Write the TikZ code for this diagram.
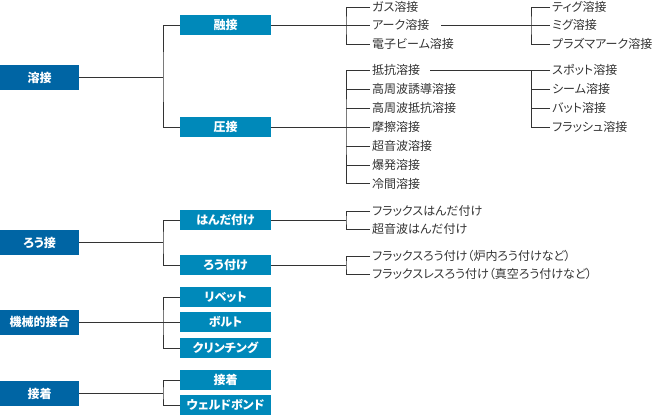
\documentclass[tikz,border=0pt]{standalone}
\usepackage{fontspec}
\setmainfont{Noto Sans CJK JP}[RawFeature={+palt}]
\definecolor{daiKon}{RGB}{0,101,164}
\definecolor{chuuAo}{RGB}{0,137,186}
\definecolor{senIro}{RGB}{51,51,51}
\newcommand{\bunkiIchi}{163}
\newcommand{\bunkiNi}{346}
\newcommand{\bunkiSan}{531}
\newcommand{\daiX}{39.5}
\newcommand{\chuuX}{225.5}
\newcommand{\happaX}{370}
\newcommand{\happaNiX}{550}
\tikzset{
	daiBox/.style={fill=daiKon,text=white,font=\bfseries\fontsize{12}{12}\selectfont,minimum width=79pt,minimum height=25pt,inner sep=0pt},
	chuuBox/.style={fill=chuuAo,text=white,font=\bfseries\fontsize{12}{12}\selectfont,minimum width=91pt,minimum height=20pt,inner sep=0pt},
	happa/.style={anchor=west,inner xsep=2pt,inner ysep=0pt,text=senIro,font=\fontsize{12}{12}\selectfont},
	sen/.style={draw=senIro,line width=1pt}
}

\begin{document}
\begin{tikzpicture}[x=1pt,y=-1pt]
	\useasboundingbox (0,0) rectangle (654,415);
	% 溶接
	\node[daiBox] (yosetsu) at (\daiX,77.5) {溶接};
	\node[chuuBox] (yuusetsu) at (\chuuX,25) {融接};
	\node[chuuBox] (assetsu) at (\chuuX,127) {圧接};
	\coordinate (yosetsuBunki) at (\bunkiIchi,77.5);
	\draw[sen] (yosetsu.east)--(yosetsuBunki);
	\draw[sen] (yuusetsu.west)-|(yosetsuBunki)|-(assetsu.west);
	% 融接の種類
	\node[happa] (gasu) at (\happaX,7) {ガス溶接};
	\node[happa] (aaku) at (\happaX,25) {アーク溶接};
	\node[happa] (denshi) at (\happaX,44) {電子ビーム溶接};
	\coordinate (yuusetsuBunki) at (\bunkiNi,25);
	\draw[sen] (yuusetsu.east)--(aaku.west);
	\draw[sen] (gasu.west)-|(yuusetsuBunki)|-(denshi.west);
	% アーク溶接の種類
	\node[happa] (tig) at (\happaNiX,7) {ティグ溶接};
	\node[happa] (mig) at (\happaNiX,25) {ミグ溶接};
	\node[happa] (purazuma) at (\happaNiX,44) {プラズマアーク溶接};
	\coordinate (aakuBunki) at (\bunkiSan,25);
	\draw[sen,shorten <=10pt] (aaku.east)--(mig.west);
	\draw[sen] (tig.west)-|(aakuBunki)|-(purazuma.west);
	% 圧接の種類
	\node[happa] (teikou) at (\happaX,70) {抵抗溶接};
	\node[happa] (kouYuudou) at (\happaX,89) {高周波誘導溶接};
	\node[happa] (kouTeikou) at (\happaX,108) {高周波抵抗溶接};
	\node[happa] (masatsu) at (\happaX,127) {摩擦溶接};
	\node[happa] (chouonpa) at (\happaX,146) {超音波溶接};
	\node[happa] (bakuhatsu) at (\happaX,165) {爆発溶接};
	\node[happa] (reikan) at (\happaX,183.5) {冷間溶接};
	\coordinate (assetsuBunki) at (\bunkiNi,127);
	\draw[sen] (assetsu.east)--(masatsu.west);
	\draw[sen] (teikou.west)-|(assetsuBunki)|-(reikan.west)
	(kouYuudou.west)--(kouYuudou.west-|assetsuBunki)
	(kouTeikou.west)--(kouTeikou.west-|assetsuBunki)
	(chouonpa.west)--(chouonpa.west-|assetsuBunki)
	(bakuhatsu.west)--(bakuhatsu.west-|assetsuBunki);
	% 抵抗溶接の種類
	\node[happa] (supotto) at (\happaNiX,70) {スポット溶接};
	\node[happa] (shiimu) at (\happaNiX,89) {シーム溶接};
	\node[happa] (batto) at (\happaNiX,108) {バット溶接};
	\node[happa] (furasshu) at (\happaNiX,127) {フラッシュ溶接};
	\coordinate (teikouBunki) at (\bunkiSan,70);
	\draw[sen,shorten <=8pt] (teikou.east)--(supotto.west);
	\draw[sen] (supotto.west)-|(teikouBunki)|-(furasshu.west)
	(shiimu.west)--(shiimu.west-|teikouBunki)
	(batto.west)--(batto.west-|teikouBunki);
	% ろう接
	\node[daiBox] (rouSetsu) at (\daiX,242.5) {ろう接};
	\node[chuuBox] (handa) at (\chuuX,220) {はんだ付け};
	\node[chuuBox] (rouZuke) at (\chuuX,265) {ろう付け};
	\coordinate (rouSetsuBunki) at (\bunkiIchi,242.5);
	\draw[sen] (rouSetsu.east)--(rouSetsuBunki);
	\draw[sen] (handa.west)-|(rouSetsuBunki)|-(rouZuke.west);
	\node[happa] (fHanda) at (\happaX,211) {フラックスはんだ付け};
	\node[happa] (cHanda) at (\happaX,229) {超音波はんだ付け};
	\coordinate (handaBunki) at (\bunkiNi,220);
	\draw[sen] (handa.east)--(handaBunki);
	\draw[sen] (fHanda.west)-|(handaBunki)|-(cHanda.west);
	\node[happa] (fRou) at (\happaX,256) {フラックスろう付け（炉内ろう付けなど）};
	\node[happa] (flRou) at (\happaX,274) {フラックスレスろう付け（真空ろう付けなど）};
	\coordinate (rouZukeBunki) at (\bunkiNi,265);
	\draw[sen] (rouZuke.east)--(rouZukeBunki);
	\draw[sen] (fRou.west)-|(rouZukeBunki)|-(flRou.west);
	% 機械的接合
	\node[daiBox] (kikai) at (\daiX,322) {機械的接合};
	\node[chuuBox] (ribetto) at (\chuuX,297) {リベット};
	\node[chuuBox] (boruto) at (\chuuX,322) {ボルト};
	\node[chuuBox] (kurinchingu) at (\chuuX,348) {クリンチング};
	\coordinate (kikaiBunki) at (\bunkiIchi,322);
	\draw[sen] (kikai.east)--(boruto.west);
	\draw[sen] (ribetto.west)-|(kikaiBunki)|-(kurinchingu.west);
	% 接着
	\node[daiBox] (secchaku) at (\daiX,393.5) {接着};
	\node[chuuBox] (secchakuChuu) at (\chuuX,380) {接着};
	\node[chuuBox] (werudo) at (\chuuX,405) {ウェルドボンド};
	\coordinate (secchakuBunki) at (\bunkiIchi,393.5);
	\draw[sen] (secchaku.east)--(secchakuBunki);
	\draw[sen] (secchakuChuu.west)-|(secchakuBunki)|-(werudo.west);
\end{tikzpicture}
\end{document}
